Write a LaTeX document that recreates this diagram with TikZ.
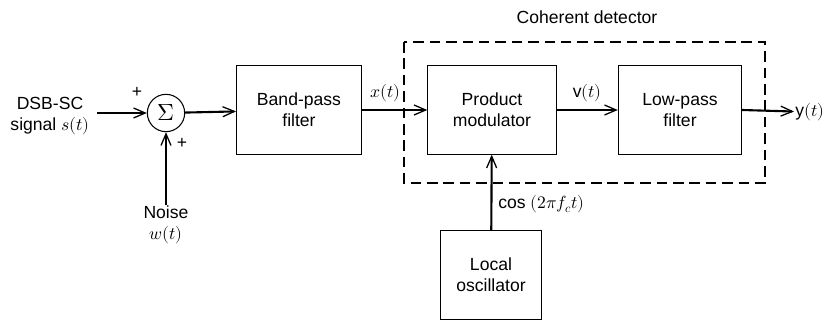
\documentclass[tikz,border=0pt]{standalone}
\usepackage{unicode-math}
\setmainfont{Liberation Sans}
\setmathfont{Latin Modern Math}
\usetikzlibrary{arrows.meta}

\begin{document}
\begin{tikzpicture}[x=0.03cm, y=-0.03cm,
  block/.style = {draw, line width=0.9pt, minimum width=3.75cm, minimum height=2.65cm, align=center, font=\fontsize{15}{18}\selectfont},
  sum/.style = {draw, circle, line width=0.9pt, minimum size=1.12cm, inner sep=0pt, font=\fontsize{20}{22}\selectfont},
  signal/.style = {line width=1.8pt, -{Straight Barb[length=3.5mm, width=3mm, line width=1.1pt]}},
  lbl/.style = {font=\fontsize{15}{18}\selectfont, align=center, inner sep=1pt},
  ]
  \useasboundingbox (0,0) rectangle (839,320);
  % the chain
  \node[lbl] (in) at (50,116) {DSB-SC\\signal $s(t)$};
  \node[sum] (sigma) at (166,113) {$\Sigma$};
  \node[block] (bpf) at (299,110) {Band-pass\\filter};
  \node[block, minimum width=3.85cm] (prod) at (492,110) {Product\\modulator};
  \node[block, minimum width=3.7cm] (lpf) at (680,110) {Low-pass\\filter};
  \node[block, minimum width=3.05cm] (osc) at (491,275) {Local\\oscillator};
  \node[lbl] (noise) at (166,225) {Noise\\$w(t)$};
  \node[lbl, anchor=west] (out) at (794,112) {y$(t)$};
  % coherent detector
  \draw[dashed, line width=0.9pt, dash pattern=on 9pt off 5pt] (404,42) rectangle (765,183);
  \node[lbl] (cohlbl) at (587,17) {Coherent detector};
  % connectors
  \draw[signal] (97,113) -- (sigma);
  \draw[signal] (noise) -- (sigma);
  \draw[signal] (sigma) -- (bpf);
  \draw[signal] (bpf) -- node[lbl, above, yshift=5pt, pos=0.36] {$x(t)$} (prod);
  \draw[signal] (prod) -- node[lbl, above, yshift=5pt] {v$(t)$} (lpf);
  \draw[signal] (lpf.east) -- (out);
  \draw[signal] (osc) -- node[lbl, right, xshift=4pt, pos=0.35] {cos $(2\pi f_c t)$} (prod);
  \node[lbl] at (137,92) {+};
  \node[lbl] at (182,143) {+};
\end{tikzpicture}
\end{document}
